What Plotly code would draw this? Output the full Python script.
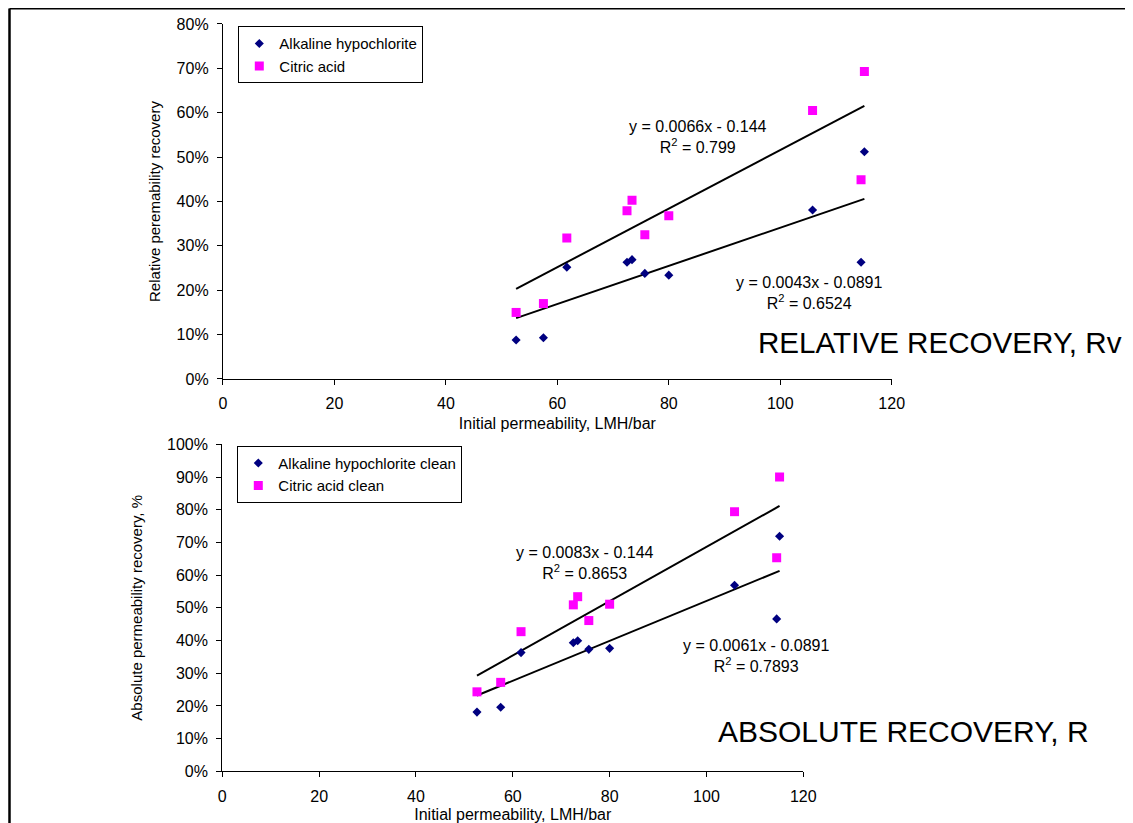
import plotly.graph_objects as go

# ---------------- data ----------------
perm = [52.6, 57.5, 61.7, 72.5, 73.4, 75.7, 80.0, 105.8, 115.1, 114.5]

rel_alkaline = [0.088, 0.093, 0.252, 0.263, 0.269, 0.238, 0.234, 0.381, 0.512, 0.263]
rel_citric = [0.150, 0.170, 0.318, 0.379, 0.403, 0.325, 0.368, 0.605, 0.693, 0.449]

abs_alkaline = [0.181, 0.196, 0.363, 0.393, 0.399, 0.373, 0.376, 0.569, 0.719, 0.466]
abs_citric = [0.243, 0.272, 0.427, 0.509, 0.534, 0.461, 0.511, 0.794, 0.900, 0.653]

# trendline coefficients: slope, intercept, R^2
fit_rel_citric = [0.0066, -0.144, 0.799]
fit_rel_alkaline = [0.0043, -0.0891, 0.6524]
fit_abs_citric = [0.0083, -0.144, 0.8653]
fit_abs_alkaline = [0.0061, -0.0891, 0.7893]

x_ticks = [0, 20, 40, 60, 80, 100, 120]

FONT = "Arial, 'Liberation Sans', sans-serif"
NAVY = "#000080"
MAGENTA = "#FF00FF"

fig = go.Figure()


def trend(fit, xa, ya):
    xs = [min(perm), max(perm)]
    ys = [fit[0] * v + fit[1] for v in xs]
    fig.add_trace(go.Scatter(x=xs, y=ys, mode="lines", xaxis=xa, yaxis=ya,
                             line=dict(color="black", width=2),
                             showlegend=False, hoverinfo="skip"))


def eq_text(fit):
    return f"y = {fit[0]}x - {abs(fit[1])}<br>R<sup>2</sup> = {fit[2]}"


# top panel
trend(fit_rel_citric, "x", "y")
trend(fit_rel_alkaline, "x", "y")
fig.add_trace(go.Scatter(x=perm, y=rel_alkaline, mode="markers", name="Alkaline hypochlorite",
                         xaxis="x", yaxis="y", legend="legend",
                         marker=dict(symbol="diamond", size=7, color=NAVY)))
fig.add_trace(go.Scatter(x=perm, y=rel_citric, mode="markers", name="Citric acid",
                         xaxis="x", yaxis="y", legend="legend",
                         marker=dict(symbol="square", size=9, color=MAGENTA)))

# bottom panel
trend(fit_abs_citric, "x2", "y2")
trend(fit_abs_alkaline, "x2", "y2")
fig.add_trace(go.Scatter(x=perm, y=abs_alkaline, mode="markers", name="Alkaline hypochlorite clean",
                         xaxis="x2", yaxis="y2", legend="legend2",
                         marker=dict(symbol="diamond", size=7, color=NAVY)))
fig.add_trace(go.Scatter(x=perm, y=abs_citric, mode="markers", name="Citric acid clean",
                         xaxis="x2", yaxis="y2", legend="legend2",
                         marker=dict(symbol="square", size=9, color=MAGENTA)))

axis_common = dict(showline=True, linecolor="black", linewidth=1.3, showgrid=False,
                   zeroline=False, ticks="outside", ticklen=5, tickwidth=1, tickcolor="black",
                   tickfont=dict(family=FONT, size=16, color="black"), ticklabelstandoff=5,
                   automargin=False)

xtitle = "Initial permeability, LMH/bar"

fig.update_layout(
    width=1125, height=815,
    autosize=False,
    margin=dict(l=0, r=0, t=0, b=0, pad=0, autoexpand=False),
    paper_bgcolor="white", plot_bgcolor="white",
    font=dict(family=FONT, color="black"),
    xaxis=dict(domain=[0.19111, 0.78551], range=[0, 120], tickvals=x_ticks, anchor="y",
               title=dict(text=xtitle, font=dict(size=16), standoff=6), **axis_common),
    yaxis=dict(domain=[0.54479, 0.98037], range=[0, 0.8], dtick=0.1, tickformat=".0%", anchor="x",
               title=dict(text="Relative peremability recovery", font=dict(size=15), standoff=12),
               **axis_common),
    xaxis2=dict(domain=[0.19049, 0.70693], range=[0, 120], tickvals=x_ticks, anchor="y2",
                title=dict(text=xtitle, font=dict(size=16), standoff=6), **axis_common),
    yaxis2=dict(domain=[0.06344, 0.46466], range=[0, 1.0], dtick=0.1, tickformat=".0%", anchor="x2",
                title=dict(text="Absolute permeability recovery, %", font=dict(size=15), standoff=20),
                **axis_common),
    legend=dict(x=0.20471, y=0.97755, xanchor="left", yanchor="top", bgcolor="white",
                bordercolor="black", borderwidth=1, font=dict(family=FONT, size=15),
                itemwidth=30),
    legend2=dict(x=0.20382, y=0.46294, xanchor="left", yanchor="top", bgcolor="white",
                 bordercolor="black", borderwidth=1, font=dict(family=FONT, size=15),
                 itemwidth=30),
    shapes=[
        dict(type="line", xref="paper", yref="paper", x0=0.00133, x1=1.0, y0=0.99926, y1=0.99926,
             line=dict(color="black", width=2)),
        dict(type="line", xref="paper", yref="paper", x0=0.00133, x1=0.00133, y0=0.0, y1=0.99926,
             line=dict(color="black", width=2.5)),
    ],
    annotations=[
        dict(text=eq_text(fit_rel_citric), xref="x", yref="y", x=85.2, y=0.545,
             showarrow=False, align="center", font=dict(size=16)),
        dict(text=eq_text(fit_rel_alkaline), xref="x", yref="y", x=105.2, y=0.1945,
             showarrow=False, align="center", font=dict(size=16)),
        dict(text=eq_text(fit_abs_citric), xref="x2", yref="y2", x=74.9, y=0.636,
             showarrow=False, align="center", font=dict(size=16)),
        dict(text=eq_text(fit_abs_alkaline), xref="x2", yref="y2", x=110.3, y=0.352,
             showarrow=False, align="center", font=dict(size=16)),
        dict(text="RELATIVE RECOVERY, Rv", xref="paper", yref="paper", x=0.66489, y=0.59018,
             xanchor="left", yanchor="middle", showarrow=False, font=dict(size=29.6)),
        dict(text="ABSOLUTE RECOVERY, R", xref="paper", yref="paper", x=0.62933, y=0.11288,
             xanchor="left", yanchor="middle", showarrow=False, font=dict(size=30)),
    ],
)

fig.write_html("out.html")
